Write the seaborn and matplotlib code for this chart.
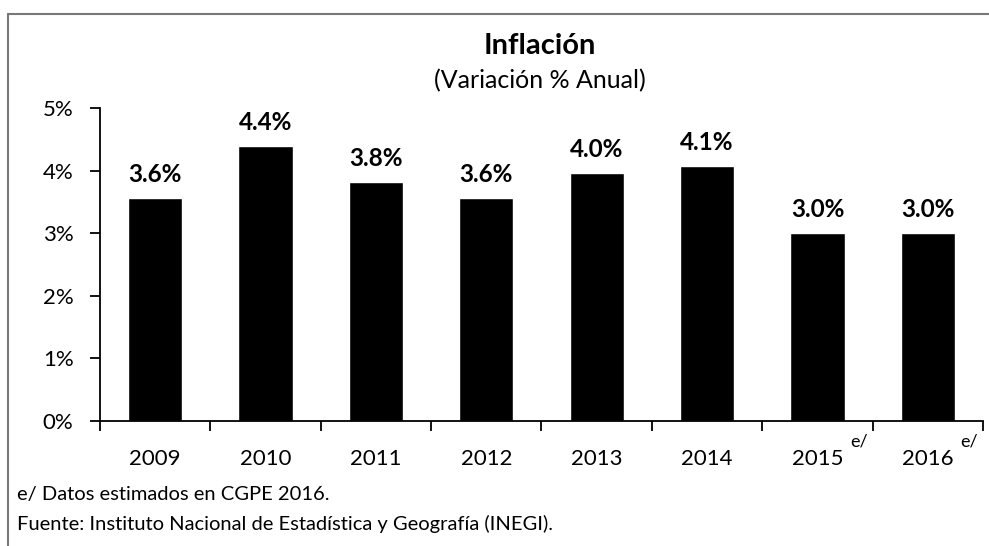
import matplotlib
matplotlib.use("Agg")
import matplotlib.pyplot as plt
import seaborn as sns
import pandas as pd
from matplotlib.lines import Line2D

years = ["2009", "2010", "2011", "2012", "2013", "2014", "2015", "2016"]
values = [3.57, 4.40, 3.82, 3.57, 3.97, 4.08, 3.00, 3.00]
labels = ["3.6%", "4.4%", "3.8%", "3.6%", "4.0%", "4.1%", "3.0%", "3.0%"]
estimated = [False, False, False, False, False, False, True, True]
yticks = [0, 1, 2, 3, 4, 5]
ytick_labels = ["0%", "1%", "2%", "3%", "4%", "5%"]

sns.set_theme(style="white")
plt.rcParams["font.family"] = ["Lato", "DejaVu Sans"]

fig = plt.figure(figsize=(9.89, 5.46), dpi=100)
ax = fig.add_axes([0.101, 0.229, 0.893, 0.573])

df = pd.DataFrame({"year": years, "value": values})
sns.barplot(data=df, x="year", y="value", color="black", width=0.49,
            saturation=1, ax=ax)

ax.set_ylim(0, 5)
ax.set_xlim(-0.5, len(years) - 0.5)
ax.set_yticks(yticks)
ax.set_yticklabels(ytick_labels)
ax.set_xlabel("")
ax.set_ylabel("")

# boundary ticks on x axis
ax.set_xticks([i - 0.5 for i in range(len(years) + 1)], minor=True)
ax.tick_params(axis="x", which="minor", length=7, width=1.3, color="black", direction="out", bottom=True)
ax.tick_params(axis="x", which="major", length=0, pad=20, labelsize=16, labelcolor="black")
ax.tick_params(axis="y", which="major", length=7, width=1.3, color="black", direction="out",
               left=True, pad=12, labelsize=16, labelcolor="black")

for s in ["top", "right"]:
    ax.spines[s].set_visible(False)
for s in ["left", "bottom"]:
    ax.spines[s].set_color("black")
    ax.spines[s].set_linewidth(1.3)

ax.bar_label(ax.containers[0], labels=labels, padding=8.5, fontsize=17.5,
             fontweight="bold", color="black")

# superscript e/ for estimated years
for i, est in enumerate(estimated):
    if est:
        ax.annotate("e/", xy=(i, 0), xycoords=("data", "axes fraction"),
                    xytext=(23.5, -14.5), textcoords="offset points",
                    fontsize=13, ha="left", va="center", color="black")

fig.text(0.546, 0.915, "Inflación", ha="center", va="center", fontsize=21,
         fontweight="bold", color="black")
fig.text(0.546, 0.853, "(Variación % Anual)", ha="center", va="center",
         fontsize=18, color="black")

fig.text(0.017, 0.095, "e/ Datos estimados en CGPE 2016.", ha="left", va="center",
         fontsize=14.5, color="black")
fig.text(0.017, 0.040, "Fuente: Instituto Nacional de Estadística y Geografía (INEGI).",
         ha="left", va="center", fontsize=14.5, color="black")

# frame lines (left and top)
fig.add_artist(Line2D([0.008, 0.008], [0.0, 0.975], transform=fig.transFigure, color="#777777", lw=1.5))
fig.add_artist(Line2D([0.008, 1.0], [0.975, 0.975], transform=fig.transFigure, color="#777777", lw=1.5))

fig.savefig("out.png", dpi=100)
